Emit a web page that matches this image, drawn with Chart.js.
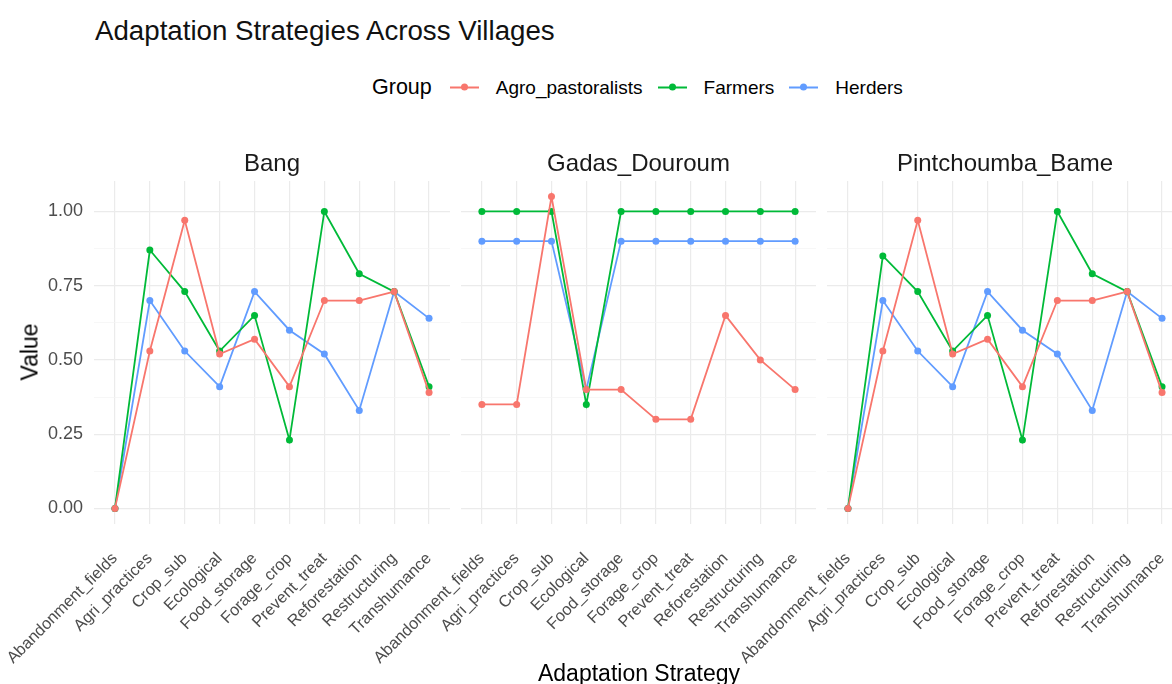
<!DOCTYPE html>
<html>
<head>
<meta charset="utf-8">
<title>Adaptation Strategies Across Villages</title>
<script src="https://cdn.jsdelivr.net/npm/chart.js@4.4.1/dist/chart.umd.min.js"></script>
<style>
    html, body { margin: 0; padding: 0; background: #fff; overflow: hidden; }
    #page {
        position: relative; width: 1172px; height: 684px; overflow: hidden;
        font-family: "Liberation Sans", Arial, sans-serif; color: #000;
    }
    canvas.facet { position: absolute; left: 0; top: 0; }
    .txt { position: absolute; white-space: nowrap; line-height: 1; }
    #main-title { left: 95px; top: 17px; font-size: 27.7px; color: #111; }
    #y-title { left: 30px; top: 352px; font-size: 23px; transform: translate(-50%, -50%) rotate(-90deg); }
    #x-title { left: 639px; top: 673px; font-size: 23px; transform: translate(-50%, -50%); }
    #legend { position: absolute; left: 372px; top: 87px; transform: translateY(-50%); display: flex; align-items: center; }
    #legend .lg-title { font-size: 21.5px; margin-right: 18px; }
    #legend .key { position: relative; width: 29px; height: 2px; margin-right: 17px; }
    #legend .key::after {
        content: ''; position: absolute; left: 50%; top: 50%; width: 7px; height: 7px;
        margin: -3.5px 0 0 -3.5px; border-radius: 50%; background: inherit;
    }
    #legend .lg-label { font-size: 19px; margin-right: 15px; }
</style>
</head>
<body>
<div id="page">
    <div id="main-title" class="txt">Adaptation Strategies Across Villages</div>
    <div id="legend"><span class="lg-title">Group</span></div>
    <canvas id="facet-0" class="facet" width="1200" height="684"></canvas>
    <canvas id="facet-1" class="facet" width="1200" height="684"></canvas>
    <canvas id="facet-2" class="facet" width="1200" height="684"></canvas>
    <div id="y-title" class="txt">Value</div>
    <div id="x-title" class="txt">Adaptation Strategy</div>
</div>
<script>
// Strategies on the x axis (same order in every facet)
const STRATEGIES = [
    'Abandonment_fields', 'Agri_practices', 'Crop_sub', 'Ecological', 'Food_storage',
    'Forage_crop', 'Prevent_treat', 'Reforestation', 'Restructuring', 'Transhumance'
];
const VILLAGES = ['Bang', 'Gadas_Douroum', 'Pintchoumba_Bame'];
const GROUPS = ['Agro_pastoralists', 'Farmers', 'Herders'];
const GROUP_COLORS = ['#F8766D', '#00BA38', '#619CFF'];

// Share of respondents per strategy
const bangAgro     = [0, 0.53, 0.97, 0.52, 0.57, 0.41, 0.70, 0.70, 0.73, 0.39];
const bangFarmers  = [0, 0.87, 0.73, 0.53, 0.65, 0.23, 1.00, 0.79, 0.73, 0.41];
const bangHerders  = [0, 0.70, 0.53, 0.41, 0.73, 0.60, 0.52, 0.33, 0.73, 0.64];

const gadasAgro    = [0.35, 0.35, 1.05, 0.40, 0.40, 0.30, 0.30, 0.65, 0.50, 0.40];
const gadasFarmers = [1.00, 1.00, 1.00, 0.35, 1.00, 1.00, 1.00, 1.00, 1.00, 1.00];
const gadasHerders = [0.90, 0.90, 0.90, 0.40, 0.90, 0.90, 0.90, 0.90, 0.90, 0.90];

const pintAgro     = [0, 0.53, 0.97, 0.52, 0.57, 0.41, 0.70, 0.70, 0.73, 0.39];
const pintFarmers  = [0, 0.85, 0.73, 0.53, 0.65, 0.23, 1.00, 0.79, 0.73, 0.41];
const pintHerders  = [0, 0.70, 0.53, 0.41, 0.73, 0.60, 0.52, 0.33, 0.73, 0.64];

const FACET_SERIES = [
    [bangAgro, bangFarmers, bangHerders],
    [gadasAgro, gadasFarmers, gadasHerders],
    [pintAgro, pintFarmers, pintHerders]
];

const Y_TICKS = [0, 0.25, 0.5, 0.75, 1];
const Y_MINOR = [0.125, 0.375, 0.625, 0.875];

// Panel frame (pixels on the page)
const CANVAS_W = 1200;
const CANVAS_H = 684;
const PANEL_LEFT = [94, 461, 827];
const PANEL_RIGHT = [450, 816, 1183];
const PLOT_BOTTOM = 524;

const FONT = '"Liberation Sans", Arial, sans-serif';
Chart.defaults.font.family = FONT;

function buildLegend() {
    const legend = document.getElementById('legend');
    GROUPS.forEach((g, i) => {
        const key = document.createElement('span');
        key.className = 'key';
        key.style.background = GROUP_COLORS[i];
        legend.appendChild(key);
        const label = document.createElement('span');
        label.className = 'lg-label';
        label.textContent = g;
        legend.appendChild(label);
    });
}

function makeFacet(idx) {
    const series = FACET_SERIES[idx];
    const ctx = document.getElementById('facet-' + idx);

    return new Chart(ctx, {
        type: 'line',
        data: {
            datasets: GROUPS.map((g, gi) => ({
                label: g,
                data: series[gi].map((v, i) => ({ x: i, y: v })),
                borderColor: GROUP_COLORS[gi],
                backgroundColor: GROUP_COLORS[gi],
                borderWidth: 1.8,
                pointRadius: 3.5,
                pointBorderWidth: 0,
                tension: 0,
                clip: false
            }))
        },
        options: {
            responsive: false,
            animation: false,
            events: [],
            layout: {
                padding: { left: 0, right: CANVAS_W - PANEL_RIGHT[idx], top: 0, bottom: 0 }
            },
            plugins: {
                legend: { display: false },
                tooltip: { enabled: false },
                title: {
                    display: true,
                    text: VILLAGES[idx],
                    fullSize: false,
                    color: '#1a1a1a',
                    font: { size: 24, weight: 'normal', lineHeight: 1.0 },
                    padding: { top: 152, bottom: 5 }
                }
            },
            scales: {
                x: {
                    type: 'linear',
                    min: -0.6,
                    max: 9.6,
                    afterBuildTicks: scale => {
                        scale.ticks = STRATEGIES.map((_, i) => ({ value: i }));
                    },
                    afterFit: scale => {
                        // long rotated labels may hang past the panel edge
                        scale.height = CANVAS_H - PLOT_BOTTOM;
                        scale.paddingLeft = 0;
                        scale.paddingRight = 0;
                    },
                    ticks: {
                        autoSkip: false,
                        minRotation: 45,
                        maxRotation: 45,
                        padding: 25,
                        color: '#4d4d4d',
                        font: { size: 16.3 },
                        callback: v => STRATEGIES[v]
                    },
                    grid: { color: '#ebebeb', lineWidth: 1.2, drawTicks: false },
                    border: { display: false }
                },
                y: {
                    min: -0.0525,
                    max: 1.1025,
                    afterBuildTicks: scale => {
                        scale.ticks = [...Y_TICKS, ...Y_MINOR]
                            .sort((a, b) => a - b)
                            .map(v => ({ value: v }));
                    },
                    afterFit: scale => { scale.width = PANEL_LEFT[idx]; },
                    ticks: {
                        display: idx === 0,
                        padding: 11,
                        color: '#4d4d4d',
                        font: { size: 18 },
                        callback: v => Y_TICKS.includes(v) ? v.toFixed(2) : ''
                    },
                    grid: {
                        drawTicks: false,
                        color: c => Y_TICKS.includes(c.tick.value) ? '#ebebeb' : '#f4f4f4',
                        lineWidth: c => Y_TICKS.includes(c.tick.value) ? 1.2 : 0.7
                    },
                    border: { display: false }
                }
            }
        }
    });
}

buildLegend();
VILLAGES.forEach((_, i) => makeFacet(i));
</script>
</body>
</html>
